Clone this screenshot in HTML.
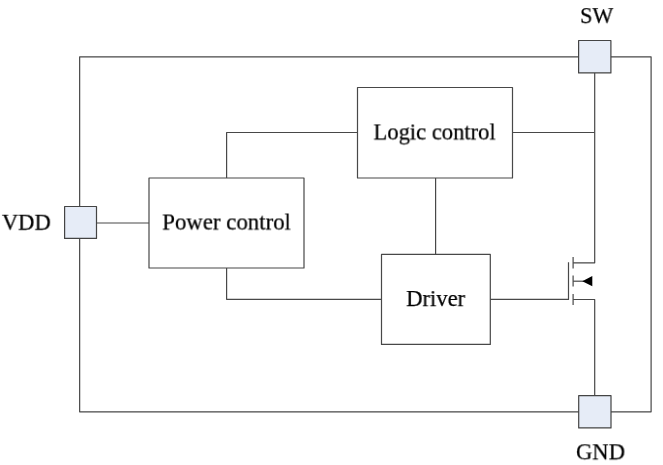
<!DOCTYPE html>
<html>
<head>
<meta charset="utf-8">
<style>
html,body{margin:0;padding:0;background:#fff;}
body{width:663px;height:465px;overflow:hidden;position:relative;font-family:"Liberation Serif",serif;}
svg{position:absolute;left:0;top:0;}
.t{position:absolute;font-family:"Liberation Serif",serif;font-size:23.3px;line-height:26px;will-change:transform;transform-origin:0 0;left:0;top:0;color:#000;white-space:nowrap;-webkit-text-stroke:0.25px #000;}
</style>
</head>
<body>
<svg width="663" height="465" viewBox="0 0 663 465" xmlns="http://www.w3.org/2000/svg">
  <g fill="none" stroke="#484848" stroke-width="1.2" stroke-linejoin="round">
    <!-- outer frame -->
    <path d="M79.65 56.8H651.1V411.8H79.65Z"/>
    <!-- boxes -->
    <path d="M149 178H304V268H149Z" fill="#fff"/>
    <path d="M357.5 87.5H512.5V178H357.5Z" fill="#fff"/>
    <path d="M381.5 254.4H490.3V344.4H381.5Z" fill="#fff"/>
    <!-- wires -->
    <path d="M96.5 223H149"/>
    <path d="M226.6 178V132.5H357.5"/>
    <path d="M226.6 268V299.3H381.5"/>
    <path d="M435.6 178V254.4"/>
    <path d="M512.5 132.5H594.7"/>
    <path d="M594.7 72.9V262.8H573.1"/>
    <path d="M490.3 299.4H568.5V262.2"/>
    <path d="M573.1 299.5H594.7V395.6"/>
    <!-- mosfet channel -->
    <path d="M573.1 257.1V268.5M573.1 275.6V286.5M573.1 294.1V304.9"/>
    <path d="M573.1 281.2H584"/>
  </g>
  <path d="M582.3 281.2L592.3 276V286.2Z" fill="#000"/>
  <g fill="#e6ecf7" stroke="#444" stroke-width="1.2" stroke-linejoin="round">
    <path d="M64.6 206.5H96.5V238.4H64.6Z"/>
    <path d="M578.6 40.5H610.9V72.9H578.6Z"/>
    <path d="M578.7 395.6H611V427.9H578.7Z"/>
  </g>
</svg>
<div class="t" style="transform:translate(162.2px,208.5px) scaleX(0.98);">Power control</div>
<div class="t" style="transform:translate(373.5px,118.4px) scaleX(0.968);">Logic control</div>
<div class="t" style="transform:translate(406.2px,285px) scaleX(0.97);">Driver</div>
<div class="t" style="transform:translate(1.9px,208.7px) scaleX(0.966);">VDD</div>
<div class="t" style="transform:translate(580.1px,2.1px) scaleX(0.948);">SW</div>
<div class="t" style="transform:translate(576px,438.3px) scaleX(0.969);">GND</div>
</body>
</html>
